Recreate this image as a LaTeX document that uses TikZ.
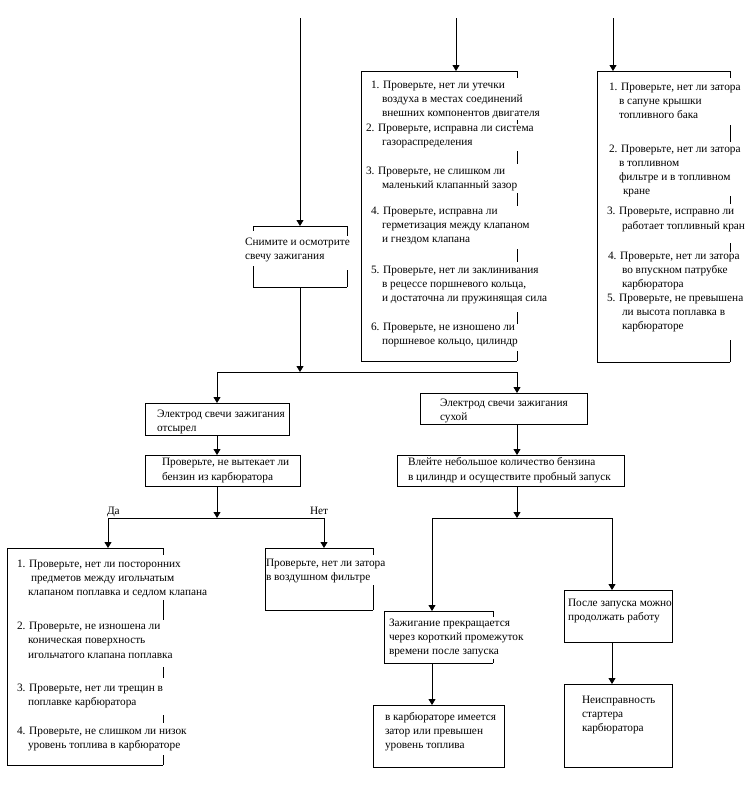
\documentclass[tikz,border=0pt]{standalone}
\usepackage{fontspec}
\setmainfont{Liberation Serif}
\usetikzlibrary{arrows.meta}
\newcommand\rseg[3]{\draw[ln] (#1,#2) -- (#1,#3);}
\newcommand\tline[4]{\node[txt] (#1) at (#2,#3) {#4};}
\tikzset{
  ln/.style={line width=0.8pt},
  arr/.style={line width=0.8pt,-{Triangle[width=7pt,length=6pt]}},
  frm/.style={draw,line width=0.8pt,inner sep=0pt,outer sep=0pt,anchor=north west},
  ofrm/.style={inner sep=0pt,outer sep=0pt,anchor=north west},
  txt/.style={inner sep=0pt,outer sep=0pt,anchor=west,text height=5.2pt,text depth=0pt,
    font=\fontsize{11.3}{13.6}\selectfont},
}
\begin{document}
\begin{tikzpicture}[x=1pt,y=-1pt]
\fill[white] (0,0) rectangle (749,806);
\useasboundingbox (0,0) rectangle (749,806);

% ---------- boxes ----------
\node[ofrm,minimum width=94pt,minimum height=61pt]  (S)  at (253,226) {};
\node[ofrm,minimum width=156pt,minimum height=290pt] (B1) at (361,71) {};
\node[ofrm,minimum width=133pt,minimum height=291pt] (B2) at (597,71) {};
\node[frm,minimum width=144pt,minimum height=32pt]  (E1) at (145,403) {};
\node[frm,minimum width=167pt,minimum height=31pt]  (E2) at (420,393) {};
\node[frm,minimum width=155pt,minimum height=31pt]  (P1) at (145,455) {};
\node[frm,minimum width=227pt,minimum height=31pt]  (V)  at (397,455) {};
\node[ofrm,minimum width=156pt,minimum height=217pt] (L)  at (7,548) {};
\node[ofrm,minimum width=108pt,minimum height=62pt]  (F)  at (265,548) {};
\node[ofrm,minimum width=109pt,minimum height=52pt]  (Z)  at (384,611) {};
\node[frm,minimum width=108pt,minimum height=52pt]  (A)  at (564,590) {};
\node[frm,minimum width=131pt,minimum height=62pt]  (K)  at (373,705) {};
\node[frm,minimum width=108pt,minimum height=83pt]  (N)  at (564,684) {};

% open box borders
\draw[ln] (S.north west) -- (S.north east);
\draw[ln] (S.south west) -- (S.south east);
\rseg{253}{226}{231}\rseg{253}{266}{287}
\rseg{347}{226}{236}\rseg{347}{270}{287}

\draw[ln] (B1.north east) -- (B1.north west) -- (B1.south west) -- (B1.south east);
\rseg{517}{71}{78}\rseg{517}{120}{124}\rseg{517}{151}{164}\rseg{517}{193}{206}
\rseg{517}{249}{262}\rseg{517}{312}{324}\rseg{517}{351}{361}

\draw[ln] (B2.north east) -- (B2.north west) -- (B2.south west) -- (B2.south east);
\rseg{730}{71}{78}\rseg{730}{125}{142}\rseg{730}{196}{204}\rseg{730}{243}{252}\rseg{730}{340}{362}

\draw[ln] (L.north east) -- (L.north west) -- (L.south west) -- (L.south east);
\rseg{163}{548}{555}\rseg{163}{600}{620}\rseg{163}{667}{678}\rseg{163}{715}{723}\rseg{163}{755}{765}

\draw[ln] (F.north east) -- (F.north west) -- (F.south west) -- (F.south east);
\rseg{373}{548}{555}\rseg{373}{585}{610}

\draw[ln] (Z.north east) -- (Z.north west) -- (Z.south west) -- (Z.south east);
\rseg{493}{611}{617}\rseg{493}{659}{663}

% ---------- texts ----------
\tline{s1}{245}{243}{Снимите и осмотрите}
\tline{s2}{245}{257}{свечу зажигания}

\tline{a1}{371}{86}{1. Проверьте, нет ли утечки}
\tline{a2}{382}{100}{воздуха в местах соединений}
\tline{a3}{382}{114}{внешних компонентов двигателя}
\tline{a4}{366}{129}{2. Проверьте, исправна ли система}
\tline{a5}{382}{143}{газораспределения}
\tline{a6}{366}{172}{3. Проверьте, не слишком ли}
\tline{a7}{382}{186}{маленький клапанный зазор}
\tline{a8}{371}{212}{4. Проверьте, исправна ли}
\tline{a9}{382}{226}{герметизация между клапаном}
\tline{a10}{382}{240}{и гнездом клапана}
\tline{a11}{371}{271}{5. Проверьте, нет ли заклинивания}
\tline{a12}{382}{285}{в рецессе поршневого кольца,}
\tline{a13}{382}{299}{и достаточна ли пружинящая сила}
\tline{a14}{371}{328}{6. Проверьте, не изношено ли}
\tline{a15}{382}{342}{поршневое кольцо, цилиндр}

\tline{b1}{609}{88}{1. Проверьте, нет ли затора}
\tline{b2}{619}{102}{в сапуне крышки}
\tline{b3}{619}{116}{топливного бака}
\tline{b4}{609}{150}{2. Проверьте, нет ли затора}
\tline{b5}{619}{164}{в топливном}
\tline{b6}{619}{178}{фильтре и в топливном}
\tline{b7}{623}{192}{кране}
\tline{b8}{607}{212}{3. Проверьте, исправно ли}
\tline{b9}{622}{227}{работает топливный кран}
\tline{b10}{608}{257}{4. Проверьте, нет ли затора}
\tline{b11}{622}{271}{во впускном патрубке}
\tline{b12}{622}{285}{карбюратора}
\tline{b13}{607}{299}{5. Проверьте, не превышена}
\tline{b14}{622}{313}{ли высота поплавка в}
\tline{b15}{622}{327}{карбюраторе}

\tline{e1}{157}{415}{Электрод свечи зажигания}
\tline{e2}{157}{429}{отсырел}
\tline{e3}{440}{404}{Электрод свечи зажигания}
\tline{e4}{440}{418}{сухой}
\tline{p1}{162}{463}{Проверьте, не вытекает ли}
\tline{p2}{162}{478}{бензин из карбюратора}
\tline{v1}{408}{463}{Влейте небольшое количество бензина}
\tline{v2}{408}{478}{в цилиндр и осуществите пробный запуск}

\tline{c1}{17}{565}{1. Проверьте, нет ли посторонних}
\tline{c2}{31}{579}{предметов между игольчатым}
\tline{c3}{28}{593}{клапаном поплавка и седлом клапана}
\tline{c4}{17}{627}{2. Проверьте, не изношена ли}
\tline{c5}{28}{641}{коническая поверхность}
\tline{c6}{28}{656}{игольчатого клапана поплавка}
\tline{c7}{17}{689}{3. Проверьте, нет ли трещин в}
\tline{c8}{28}{703}{поплавке карбюратора}
\tline{c9}{17}{732}{4. Проверьте, не слишком ли низок}
\tline{c10}{28}{746}{уровень топлива в карбюраторе}

\tline{f1}{266}{564}{Проверьте, нет ли затора}
\tline{f2}{266}{578}{в воздушном фильтре}
\tline{z1}{389}{624}{Зажигание прекращается}
\tline{z2}{389}{638}{через короткий промежуток}
\tline{z3}{389}{652}{времени после запуска}
\tline{r1}{568}{604}{После запуска можно}
\tline{r2}{568}{618}{продолжать работу}
\tline{k1}{385}{718}{в карбюраторе имеется}
\tline{k2}{385}{732}{затор или превышен}
\tline{k3}{385}{746}{уровень топлива}
\tline{n1}{582}{701}{Неисправность}
\tline{n2}{582}{715}{стартера}
\tline{n3}{582}{729}{карбюратора}

\tline{yes}{107}{512}{Да}
\tline{no}{310}{512}{Нет}

% ---------- connectors ----------
\coordinate (T1) at (300,18);
\coordinate (T2) at (456,18);
\coordinate (T3) at (613,18);
\coordinate (J1) at (300,372);
\coordinate (J1L) at (217,372);
\coordinate (J1R) at (517,372);
\coordinate (J2) at (217,518);
\coordinate (J2L) at (108,518);
\coordinate (J2R) at (324,518);
\coordinate (J3) at (517,518);
\coordinate (J3L) at (432,518);
\coordinate (J3R) at (612,518);

\draw[arr] (T1) -- (T1 |- S.north);
\draw[arr] (T2) -- (T2 |- B1.north);
\draw[arr] (T3) -- (T3 |- B2.north);

\draw[arr] (J1 |- S.south) -- (J1);
\draw[ln] (J1L) -- (J1R);
\draw[arr] (J1L) -- (J1L |- E1.north);
\draw[arr] (J1R) -- (J1R |- E2.north);

\draw[arr] (J1L |- E1.south) -- (J1L |- P1.north);
\draw[arr] (J1R |- E2.south) -- (J1R |- V.north);

\draw[arr] (J2 |- P1.south) -- (J2);
\draw[ln] (J2L) -- (J2R);
\draw[arr] (J2L) -- (J2L |- L.north);
\draw[arr] (J2R) -- (J2R |- F.north);

\draw[arr] (J3 |- V.south) -- (J3);
\draw[ln] (J3L) -- (J3R);
\draw[arr] (J3L) -- (J3L |- Z.north);
\draw[arr] (J3R) -- (J3R |- A.north);

\draw[arr] (J3L |- Z.south) -- (J3L |- K.north);
\draw[arr] (J3R |- A.south) -- (J3R |- N.north);
\end{tikzpicture}
\end{document}
